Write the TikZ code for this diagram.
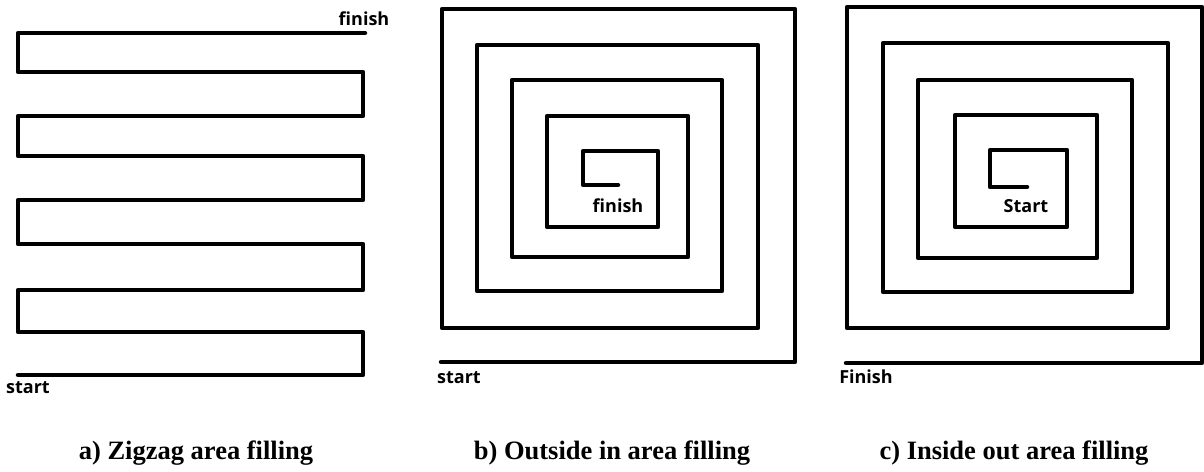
\documentclass[tikz,border=0pt]{standalone}
\usepackage{fontspec}
\setmainfont{Liberation Serif}
\newfontfamily\labfont{Open Sans}
\tikzset{
  track/.style={line width=4.5pt, line join=round, line cap=round, black},
  lbl/.style={font=\labfont\bfseries\fontsize{18}{19}\selectfont, inner sep=0pt, anchor=base},
  capt/.style={font=\bfseries\fontsize{26.5}{29}\selectfont, inner sep=0pt, anchor=base}
}
\begin{document}
\begin{tikzpicture}[x=1pt,y=-1pt]
\useasboundingbox (0,0) rectangle (1204,471);
% a) zigzag
\coordinate (aS) at (18,375);
\coordinate (aF) at (365,33);
\draw[track] (aS) -- (363,375) -- (363,332) -- (18,332) -- (18,290) -- (363,290)
  -- (363,244) -- (18,244) -- (18,200) -- (363,200) -- (363,156) -- (18,156)
  -- (18,116) -- (363,116) -- (363,72) -- (18,72) -- (18,33) -- (aF);
\node[lbl] (aFin) at (364,25) {finish};
\node[lbl] (aSta) at (28,393) {start};
% b) outside in
\coordinate (bS) at (441,362);
\coordinate (bF) at (618,185);
\draw[track] (bS) -- (795,362) -- (795,9) -- (442,9) -- (442,328) -- (758,328)
  -- (758,45) -- (477,45) -- (477,291) -- (722,291) -- (722,80) -- (512,80)
  -- (512,257) -- (688,257) -- (688,116) -- (547,116) -- (547,227) -- (658,227)
  -- (658,151) -- (583,151) -- (583,185) -- (bF);
\node[lbl] (bFin) at (618,212) {finish};
\node[lbl] (bSta) at (459,383) {start};
% c) inside out
\coordinate (cF) at (846,363);
\coordinate (cS) at (1027,187);
\draw[track] (cF) -- (1202,363) -- (1202,7) -- (847,7) -- (847,328) -- (1168,328)
  -- (1168,43) -- (883,43) -- (883,292) -- (1132,292) -- (1132,80) -- (918,80)
  -- (918,258) -- (1097,258) -- (1097,115) -- (955,115) -- (955,227) -- (1067,227)
  -- (1067,150) -- (990,150) -- (990,187) -- (cS);
\node[lbl] (cSta) at (1026,212) {Start};
\node[lbl] (cFin) at (866,383) {Finish};
% captions
\node[capt] (capA) at (196,459) {a) Zigzag area filling};
\node[capt] (capB) at (612,459) {b) Outside in area filling};
\node[capt] (capC) at (1014,459) {c) Inside out area filling};
\end{tikzpicture}
\end{document}
